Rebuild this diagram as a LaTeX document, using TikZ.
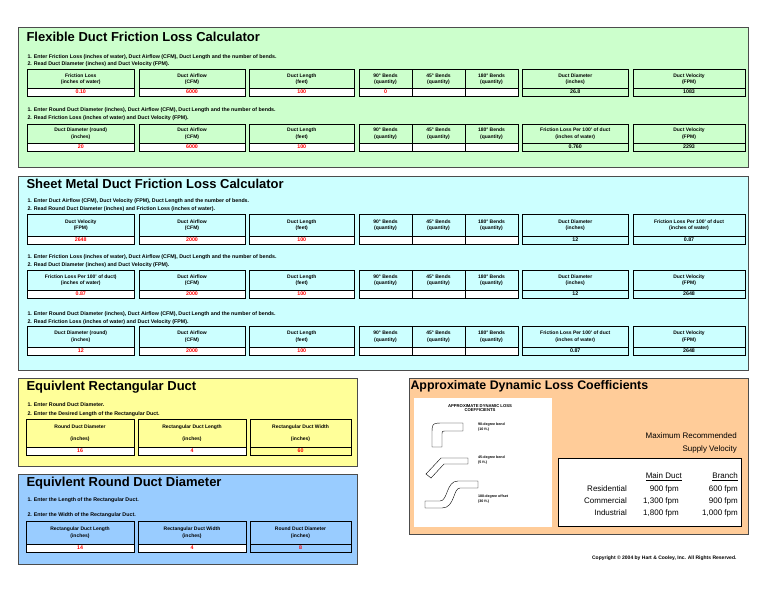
\documentclass[tikz,border=0pt]{standalone}
\usepackage{fontspec}
\setmainfont{Liberation Sans}
\definecolor{flexgreen}{RGB}{204,255,204}
\definecolor{sheetcyan}{RGB}{204,255,255}
\definecolor{rectyellow}{RGB}{255,255,153}
\definecolor{roundblue}{RGB}{153,204,255}
\definecolor{coefforange}{RGB}{255,204,153}
\newcounter{cellno}
% one calculator cell: x1, x2, ytop, ybot, header, value, value style
\newcommand\cellbox[7]{%
  \stepcounter{cellno}%
  \fill[#7] (#1,{#4-8}) rectangle (#2,#4);
  \draw[thin] (#1,{#4-8}) -- (#2,{#4-8});
  \draw[cellline] (#1,#3) rectangle (#2,#4);
  \node[hdr] (head\arabic{cellno}) at ({(#1+#2)/2},{(#3+#4-8)/2}) {#5};
  \node[val,#7] (val\arabic{cellno}) at ({(#1+#2)/2},{#4-4}) {#6};}
% the three bend cells: ytop, ybot, value of the 90 degree cell
\newcommand\bendbox[3]{%
  \fill[white] (359,{#2-8}) rectangle (518,#2);
  \draw[thin] (359,{#2-8}) -- (518,{#2-8});
  \draw[cellline] (359,#1) rectangle (518,#2);
  \draw[thin] (412,#1) -- (412,#2) (465,#1) -- (465,#2);
  \node[hdr] (b90-#1) at (385.5,{(#1+#2-8)/2}) {90° Bends\\(quantity)};
  \node[hdr] (b45-#1) at (438.5,{(#1+#2-8)/2}) {45° Bends\\(quantity)};
  \node[hdr] (b180-#1) at (491.5,{(#1+#2-8)/2}) {180° Bends\\(quantity)};
  \node[val,text=red] (bv-#1) at (385.5,{#2-4}) {#3};}
\tikzset{
  panel/.style={draw=black!70, line width=1pt},
  cellline/.style={line width=1pt},
  title/.style={anchor=west, font=\bfseries\fontsize{13}{14}\selectfont},
  instr/.style={anchor=west, font=\bfseries\fontsize{5.3}{6}\selectfont},
  hdr/.style={align=center, font=\bfseries\fontsize{5}{6.5}\selectfont, inner sep=0pt},
  val/.style={font=\bfseries\fontsize{5.3}{6}\selectfont, inner sep=0pt},
  inval/.style={fill=white, text=red},
  tiny/.style={anchor=west, align=left, font=\bfseries\fontsize{3.6}{4.2}\selectfont, inner sep=0pt},
  vel/.style={anchor=east, font=\fontsize{8}{9}\selectfont, inner sep=0pt},
}
\begin{document}
\begin{tikzpicture}[x=1pt, y=-1pt]
    \useasboundingbox (0,0) rectangle (768,594);

    % Flexible duct panel
    \draw[panel, fill=flexgreen] (18,28) rectangle (748,167);
    \node[title] (flextitle) at (23,37) {Flexible Duct Friction Loss Calculator};
    \node[instr] (flexa1) at (24,57) {1. Enter Friction Loss (inches of water), Duct Airflow (CFM), Duct Length and the number of bends.};
    \node[instr] (flexa2) at (24,64) {2. Read Duct Diameter (inches) and Duct Velocity (FPM).};
    \cellbox{27.5}{134}{70}{96}{Friction Loss\\(inches of water)}{0.10}{inval}
    \cellbox{139}{245}{70}{96}{Duct Airflow\\(CFM)}{6000}{inval}
    \cellbox{249.5}{354}{70}{96}{Duct Length\\(feet)}{100}{inval}
    \bendbox{70}{96}{0}
    \cellbox{522}{628.5}{70}{96}{Duct Diameter\\(inches)}{26.8}{fill=flexgreen}
    \cellbox{633}{745}{70}{96}{Duct Velocity\\(FPM)}{1083}{fill=flexgreen}
    \node[instr] (flexb1) at (24,110) {1. Enter Round Duct Diameter (inches), Duct Airflow (CFM), Duct Length and the number of bends.};
    \node[instr] (flexb2) at (24,118) {2. Read Friction Loss (inches of water) and Duct Velocity (FPM).};
    \cellbox{27.5}{134}{124}{151}{Duct Diameter (round)\\(inches)}{20}{inval}
    \cellbox{139}{245}{124}{151}{Duct Airflow\\(CFM)}{6000}{inval}
    \cellbox{249.5}{354}{124}{151}{Duct Length\\(feet)}{100}{inval}
    \bendbox{124}{151}{}
    \cellbox{522}{628.5}{124}{151}{Friction Loss Per 100' of duct\\(inches of water)}{0.760}{fill=flexgreen}
    \cellbox{633}{745}{124}{151}{Duct Velocity\\(FPM)}{2293}{fill=flexgreen}

    % Sheet metal duct panel
    \draw[panel, fill=sheetcyan] (18,176) rectangle (748,370);
    \node[title] (sheettitle) at (23,184) {Sheet Metal Duct Friction Loss Calculator};
    \node[instr] (sheeta1) at (24,201) {1. Enter Duct Airflow (CFM), Duct Velocity (FPM), Duct Length and the number of bends.};
    \node[instr] (sheeta2) at (24,209) {2. Read Round Duct Diameter (inches) and Friction Loss (inches of water).};
    \cellbox{27.5}{134}{214}{244}{Duct Velocity\\(FPM)}{2648}{inval}
    \cellbox{139}{245}{214}{244}{Duct Airflow\\(CFM)}{2000}{inval}
    \cellbox{249.5}{354}{214}{244}{Duct Length\\(feet)}{100}{inval}
    \bendbox{214}{244}{}
    \cellbox{522}{628.5}{214}{244}{Duct Diameter\\(inches)}{12}{fill=sheetcyan}
    \cellbox{633}{745}{214}{244}{Friction Loss Per 100' of duct\\(inches of water)}{0.87}{fill=sheetcyan}
    \node[instr] (sheetb1) at (24,257) {1. Enter Friction Loss (inches of water), Duct Airflow (CFM), Duct Length and the number of bends.};
    \node[instr] (sheetb2) at (24,265) {2. Read Duct Diameter (inches) and Duct Velocity (FPM).};
    \cellbox{27.5}{134}{270}{298}{Friction Loss Per 100' of duct)\\(inches of water)}{0.87}{inval}
    \cellbox{139}{245}{270}{298}{Duct Airflow\\(CFM)}{2000}{inval}
    \cellbox{249.5}{354}{270}{298}{Duct Length\\(feet)}{100}{inval}
    \bendbox{270}{298}{}
    \cellbox{522}{628.5}{270}{298}{Duct Diameter\\(inches)}{12}{fill=sheetcyan}
    \cellbox{633}{745}{270}{298}{Duct Velocity\\(FPM)}{2648}{fill=sheetcyan}
    \node[instr] (sheetc1) at (24,314) {1. Enter Round Duct Diameter (inches), Duct Airflow (CFM), Duct Length and the number of bends.};
    \node[instr] (sheetc2) at (24,322) {2. Read Friction Loss (inches of water) and Duct Velocity (FPM).};
    \cellbox{27.5}{134}{326}{355}{Duct Diameter (round)\\(inches)}{12}{inval}
    \cellbox{139}{245}{326}{355}{Duct Airflow\\(CFM)}{2000}{inval}
    \cellbox{249.5}{354}{326}{355}{Duct Length\\(feet)}{100}{inval}
    \bendbox{326}{355}{}
    \cellbox{522}{628.5}{326}{355}{Friction Loss Per 100' of duct\\(inches of water)}{0.87}{fill=sheetcyan}
    \cellbox{633}{745}{326}{355}{Duct Velocity\\(FPM)}{2648}{fill=sheetcyan}

    % Equivalent rectangular duct panel
    \draw[panel, fill=rectyellow] (18,378) rectangle (357,466);
    \node[title] (recttitle) at (23,387) {Equivlent Rectangular Duct};
    \node[instr] (recta1) at (24,405) {1. Enter Round Duct Diameter.};
    \node[instr] (recta2) at (24,414) {2. Enter the Desired Length of the Rectangular Duct.};
    \cellbox{26}{134}{419}{455}{Round Duct Diameter\\[5pt](inches)}{16}{inval}
    \cellbox{138}{246}{419}{455}{Rectangular Duct Length\\[5pt](inches)}{4}{inval}
    \cellbox{250}{351}{419}{455}{Rectangular Duct Width\\[5pt](inches)}{60}{fill=rectyellow,text=red}

    % Equivalent round duct panel
    \draw[panel, fill=roundblue] (18,474) rectangle (357,564);
    \node[title] (roundtitle) at (23,483) {Equivlent Round Duct Diameter};
    \node[instr] (rounda1) at (24,500) {1. Enter the Length of the Rectangular Duct.};
    \node[instr] (rounda2) at (24,515) {2. Enter the Width of the Rectangular Duct.};
    \cellbox{26}{134}{521}{552}{Rectangular Duct Length\\(inches)}{14}{inval}
    \cellbox{138}{246}{521}{552}{Rectangular Duct Width\\(inches)}{4}{inval}
    \cellbox{250}{351}{521}{552}{Round Duct Diameter\\(inches)}{8}{fill=roundblue,text=red}

    % Dynamic loss panel
    \draw[panel, fill=coefforange] (409,378) rectangle (748,534);
    \node[title, font=\bfseries\fontsize{12.4}{14}\selectfont] (coefftitle) at (407,386) {Approximate Dynamic Loss Coefficients};
    \fill[white] (414,398) rectangle (552,527);
    \node[align=center, font=\bfseries\fontsize{4.2}{4.7}\selectfont, inner sep=0pt] (coeffhead) at (480,408) {APPROXIMATE DYNAMIC LOSS\\COEFFICIENTS};
    \draw[thin] (432,447) -- (432,435) .. controls (432,423) .. (444,423) -- (463,423) -- (463,431) -- (446,431) .. controls (442,431) .. (442,435) -- (442,447) -- cycle;
    \draw[thin] (426,474) -- (441,458) -- (468,458) -- (468,464) -- (444,464) -- (431,478) -- cycle;
    \draw[thin] (425,501) -- (440,501) .. controls (448,501) and (446,481) .. (458,481) -- (478,481) -- (478,488) -- (460,488) .. controls (453,488) and (455,508) .. (442,508) -- (425,508) -- cycle;
    \node[tiny] (bend90) at (478,427) {90-degree bend\\(10 ft.)};
    \node[tiny] (bend45) at (478,460) {45-degree bend\\(5 ft.)};
    \node[tiny] (offset180) at (478,499) {180-degree offset\\(30 ft.)};
    \node[vel] (maxrec) at (737,436) {Maximum Recommended};
    \node[vel] (supvel) at (737,449) {Supply Velocity};
    \draw[thick, fill=white] (558,458) rectangle (741,526);
    \node[vel] (mainhead) at (682,477) {\underline{Main Duct}};
    \node[vel] (branchhead) at (738,477) {\underline{Branch}};
    \foreach \kind/\main/\branch [count=\i] in {Residential/900 fpm/600 fpm, Commercial/{1,300 fpm}/900 fpm, Industrial/{1,800 fpm}/{1,000 fpm}} {
      \node[vel] (kind\i) at (627,{477+12*\i}) {\kind};
      \node[vel] (main\i) at (679,{477+12*\i}) {\main};
      \node[vel] (branch\i) at (738,{477+12*\i}) {\branch};
    }

    \node[anchor=east, font=\bfseries\fontsize{5}{6}\selectfont] (copyright) at (740,558) {Copyright © 2004 by Hart \& Cooley, Inc. All Rights Reserved.};
\end{tikzpicture}
\end{document}
